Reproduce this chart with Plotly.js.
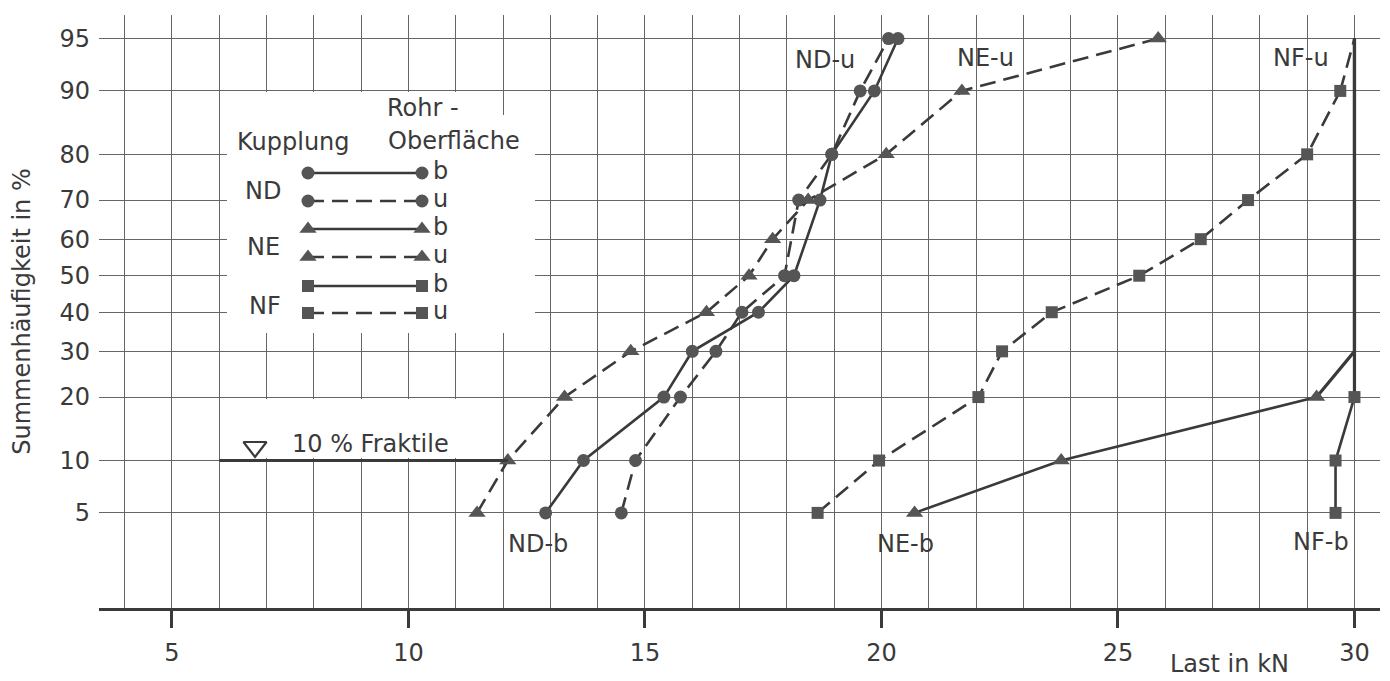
<!DOCTYPE html>
<html><head><meta charset="utf-8">
<script src="https://cdn.plot.ly/plotly-3.0.1.min.js"></script>
<style>html,body{margin:0;padding:0;background:#fff;}#chart{width:1390px;height:681px;}</style>
</head><body><div id="chart"></div>
<script>
// ---- tick labels ----
const percentTicks = [5, 10, 20, 30, 40, 50, 60, 70, 80, 90, 95];
const loadTicks = [5, 10, 15, 20, 25, 30];

// ---- series (Last in kN vs Summenhäufigkeit in %) ----
const ndbLoad = [12.9, 13.7, 15.4, 16.0, 17.4, 18.15, 18.7, 18.95, 19.85, 20.35];
const ndbP    = [5, 10, 20, 30, 40, 50, 70, 80, 90, 95];
const nduLoad = [14.5, 14.8, 15.75, 16.5, 17.05, 17.95, 18.25, 18.95, 19.55, 20.15];
const nduP    = [5, 10, 20, 30, 40, 50, 70, 80, 90, 95];
const nebLoad = [20.7, 23.8, 29.2];
const nebP    = [5, 10, 20];
const nebCensLoad = [30, 30];
const nebCensP    = [30, 95];
const neuLoad = [11.45, 12.1, 13.3, 14.7, 16.3, 17.2, 17.7, 18.45, 20.1, 21.7, 25.85];
const neuP    = [5, 10, 20, 30, 40, 50, 60, 70, 80, 90, 95];
const nfbLoad = [29.6, 29.6, 30];
const nfbP    = [5, 10, 20];
const nfbCensLoad = [30];
const nfbCensP    = [95];
const nfuLoad = [18.65, 19.95, 22.05, 22.55, 23.6, 25.45, 26.75, 27.75, 29.0, 29.7];
const nfuP    = [5, 10, 20, 30, 40, 50, 60, 70, 80, 90];
const nfuCensLoad = [30];
const nfuCensP    = [95];

const fraktileP = 10;
const fraktileStart = 6;

// ---- probability-paper scale (inverse normal CDF) ----
function probit(pct) {
  const p = pct / 100;
  const a = [-3.969683028665376e+01, 2.209460984245205e+02, -2.759285104469687e+02, 1.383577518672690e+02, -3.066479806614716e+01, 2.506628277459239e+00];
  const b = [-5.447609879822406e+01, 1.615858368580409e+02, -1.556989798598866e+02, 6.680131188771972e+01, -1.328068155288572e+01];
  const c = [-7.784894002430293e-03, -3.223964580411365e-01, -2.400758277161838e+00, -2.549732539343734e+00, 4.374664141464968e+00, 2.938163982698783e+00];
  const d = [7.784695709041462e-03, 3.224671290700398e-01, 2.445134137142996e+00, 3.754408661907416e+00];
  const plow = 0.02425, phigh = 1 - plow;
  let q, r;
  if (p < plow) {
    q = Math.sqrt(-2 * Math.log(p));
    return (((((c[0]*q+c[1])*q+c[2])*q+c[3])*q+c[4])*q+c[5]) / ((((d[0]*q+d[1])*q+d[2])*q+d[3])*q+1);
  } else if (p <= phigh) {
    q = p - 0.5; r = q*q;
    return (((((a[0]*r+a[1])*r+a[2])*r+a[3])*r+a[4])*r+a[5])*q / (((((b[0]*r+b[1])*r+b[2])*r+b[3])*r+b[4])*r+1);
  } else {
    q = Math.sqrt(-2 * Math.log(1 - p));
    return -(((((c[0]*q+c[1])*q+c[2])*q+c[3])*q+c[4])*q+c[5]) / ((((d[0]*q+d[1])*q+d[2])*q+d[3])*q+1);
  }
}
const Z = arr => arr.map(probit);

// layout helpers for decorations (pixel -> axis / paper units)
const X0 = 3.457, X1 = 30.54, ZL = -2.3044, ZH = 1.808;
const ML = 99, MR = 10, MT = 15, MB = 73, W = 1390, H = 681;
const PW = W - ML - MR, PH = H - MT - MB;
const px = x => X0 + (x - ML) / PW * (X1 - X0);
const py = y => ZH - (y - MT) / PH * (ZH - ZL);
const ppx = x => (x - ML) / PW;
const ppy = y => (H - MB - y) / PH;

const LINE = '#3a3a3a', MK = '#555555', TXT = '#3a3a3a';
const DASH = '16px,8px';
const FONT = 'DejaVu Sans';

function series(xs, ps, dash, symbol, size) {
  return {x: xs, y: Z(ps), type: 'scatter', mode: 'lines+markers',
    line: {color: LINE, width: 2.6, dash: dash},
    marker: {symbol: symbol, size: size, color: MK, line: {width: 0}},
    hoverinfo: 'skip', showlegend: false, cliponaxis: false};
}
function cont(x0, p0, xs, ps, dash, width) {
  return {x: [x0].concat(xs), y: Z([p0].concat(ps)), type: 'scatter', mode: 'lines',
    line: {color: LINE, width: width, dash: dash}, hoverinfo: 'skip', showlegend: false, cliponaxis: false};
}

const traces = [
  cont(nebLoad[nebLoad.length-1], nebP[nebP.length-1], nebCensLoad, nebCensP, 'solid', 3.2),
  cont(nfbLoad[nfbLoad.length-1], nfbP[nfbP.length-1], nfbCensLoad, nfbCensP, 'solid', 3.2),
  cont(nfuLoad[nfuLoad.length-1], nfuP[nfuP.length-1], nfuCensLoad, nfuCensP, DASH, 2.6),
  series(ndbLoad, ndbP, 'solid', 'circle', 13),
  series(nduLoad, nduP, DASH, 'circle', 13),
  series(nebLoad, nebP, 'solid', 'triangle-up', 15),
  series(neuLoad, neuP, DASH, 'triangle-up', 15),
  series(nfbLoad, nfbP, 'solid', 'square', 12),
  series(nfuLoad, nfuP, DASH, 'square', 12),
  // 10 % Fraktile line
  {x: [fraktileStart, neuLoad[neuP.indexOf(fraktileP)]], y: Z([fraktileP, fraktileP]), type: 'scatter', mode: 'lines',
   line: {color: LINE, width: 3}, hoverinfo: 'skip', showlegend: false},
  {x: [px(255)], y: [py(447)], type: 'scatter', mode: 'markers',
   marker: {symbol: 'triangle-down-open', size: 20, color: LINE, line: {width: 2.2, color: LINE}},
   hoverinfo: 'skip', showlegend: false}
];

// legend samples
const legendRows = [
  {y: 173, dash: 'solid', symbol: 'circle', size: 13, lab: 'b'},
  {y: 201, dash: DASH, symbol: 'circle', size: 13, lab: 'u'},
  {y: 229, dash: 'solid', symbol: 'triangle-up', size: 15, lab: 'b'},
  {y: 257, dash: DASH, symbol: 'triangle-up', size: 15, lab: 'u'},
  {y: 286, dash: 'solid', symbol: 'square', size: 12, lab: 'b'},
  {y: 313, dash: DASH, symbol: 'square', size: 12, lab: 'u'}
];
legendRows.forEach(r => {
  traces.push({x: [px(308), px(422)], y: [py(r.y), py(r.y)], type: 'scatter', mode: 'lines+markers',
    line: {color: LINE, width: 2.6, dash: r.dash},
    marker: {symbol: r.symbol, size: r.size, color: MK, line: {width: 0}},
    hoverinfo: 'skip', showlegend: false});
});

function txt(x, y, s, anchor) {
  return {x: ppx(x), y: ppy(y), xref: 'paper', yref: 'paper', text: s, showarrow: false,
    xanchor: anchor || 'center', yanchor: 'middle', font: {family: FONT, size: 24, color: TXT}};
}
const annotations = [
  txt(825, 60, 'ND-u'), txt(985, 58, 'NE-u'), txt(1301, 58, 'NF-u'),
  txt(538, 544, 'ND-b'), txt(905, 544, 'NE-b'), txt(1321, 542, 'NF-b'),
  txt(293, 142, 'Kupplung'), txt(385, 108, 'Rohr -', 'left'), txt(386, 141, 'Oberfläche', 'left'),
  txt(263, 191, 'ND'), txt(263, 247, 'NE'), txt(265, 306, 'NF'),
  txt(290, 444, '10 % Fraktile', 'left'),
  txt(1229, 664, 'Last in kN')
];
legendRows.forEach(r => annotations.push(txt(431, r.y - 2, r.lab, 'left')));

function rect(x0, y0, x1, y1) {
  return {type: 'rect', xref: 'x', yref: 'y', x0: px(x0), x1: px(x1), y0: py(y0), y1: py(y1),
    fillcolor: '#ffffff', line: {width: 0}, layer: 'between'};
}
const shapes = [
  rect(227, 115, 535, 333),
  rect(227, 92, 470, 116),
  rect(227, 399, 470, 458)
];

const layout = {
  width: W, height: H,
  margin: {l: ML, r: MR, t: MT, b: MB, pad: 0},
  paper_bgcolor: '#ffffff', plot_bgcolor: '#ffffff',
  showlegend: false, hovermode: false,
  font: {family: FONT, size: 24, color: TXT},
  xaxis: {
    range: [X0, X1], tickmode: 'array', tickvals: loadTicks, ticktext: loadTicks.map(String),
    ticks: 'outside', ticklen: 17, tickwidth: 3, tickcolor: LINE,
    showgrid: true, gridcolor: '#666666', gridwidth: 1,
    minor: {tickmode: 'linear', tick0: 0, dtick: 1, showgrid: true, gridcolor: '#666666', gridwidth: 1, ticks: ''},
    showline: true, linewidth: 3, linecolor: LINE, zeroline: false,
    tickfont: {family: FONT, size: 24, color: TXT}, ticklabelstandoff: 4
  },
  yaxis: {
    range: [ZL, ZH], tickmode: 'array', tickvals: Z(percentTicks), ticktext: percentTicks.map(String),
    ticks: '', showgrid: true, gridcolor: '#666666', gridwidth: 1,
    showline: false, zeroline: false,
    tickfont: {family: FONT, size: 24, color: TXT}, ticklabelstandoff: 8,
    title: {text: 'Summenhäufigkeit in %', font: {family: FONT, size: 24, color: TXT}, standoff: 22}
  },
  annotations: annotations,
  shapes: shapes
};

Plotly.newPlot('chart', traces, layout, {staticPlot: true, displayModeBar: false});
</script>
</body></html>
